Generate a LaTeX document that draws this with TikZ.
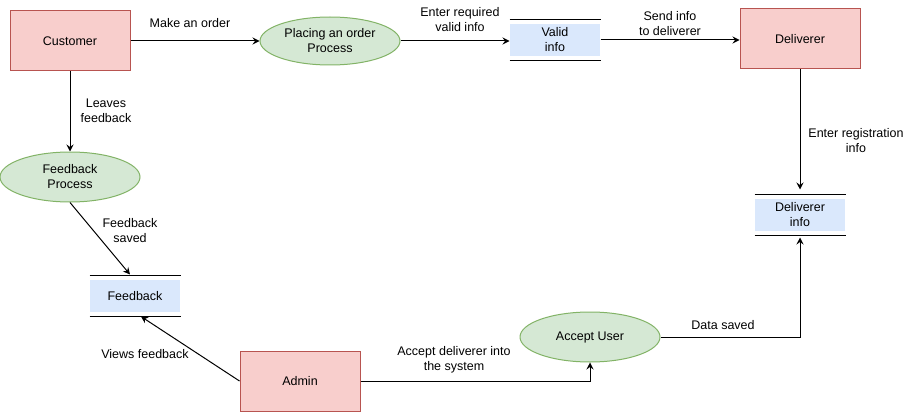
\documentclass[tikz,border=0pt]{standalone}
\usepackage{fontspec}
\setmainfont{Liberation Sans}
\usepackage{xcolor}
\usepackage{tikz}
\usetikzlibrary{arrows.meta,shapes.geometric}

\definecolor{entityfill}{HTML}{F8CECC}
\definecolor{entityline}{HTML}{B85450}
\definecolor{procfill}{HTML}{D5E8D4}
\definecolor{procline}{HTML}{82B366}
\definecolor{storefill}{HTML}{DAE8FC}

\begin{document}
\begin{tikzpicture}[x=1pt, y=-1pt, line width=1pt,
	every node/.style={font=\fontsize{12.5}{15}\selectfont, align=center},
	entity/.style={draw=entityline, fill=entityfill, minimum width=120pt, minimum height=60pt, inner sep=0pt},
	process/.style={ellipse, draw=procline, fill=procfill, minimum width=140pt, minimum height=50pt, inner sep=0pt},
	datastore/.style={fill=storefill, minimum width=90pt, minimum height=32pt, inner sep=0pt},
	flow/.style={-{Stealth[length=7pt,width=7pt,inset=2.5pt]}}]
	  \useasboundingbox (0,0) rectangle (916,412);
	  \node[entity] (cust) at (70,41) {Customer};
	  \node[entity] (deliv) at (800,39) {Deliverer};
	  \node[entity] (admin) at (300,381) {Admin};
	  \node[process, minimum height=48pt] (place) at (330,41) {Placing an order\\Process};
	  \node[process] (fbproc) at (70,177) {Feedback\\Process};
	  \node[process] (accept) at (590,337) {Accept User};
	  \node[datastore] (valid) at (555,40) {Valid\\info};
	  \node[datastore] (delinfo) at (800,215) {Deliverer\\info};
	  \node[datastore] (fbstore) at (135,296) {Feedback};
	  \foreach \s in {valid,delinfo,fbstore}
	    \draw ([yshift=4pt]\s.north west) -- ([yshift=4pt]\s.north east)
	          ([yshift=-4pt]\s.south west) -- ([yshift=-4pt]\s.south east);
	  \draw[flow] (cust.east) -- (cust.east -| place.west);
	  \draw[flow] (place.east) -- (place.east -| valid.west);
	  \draw[flow] (valid.east) -- (valid.east -| deliv.west);
	  \draw[flow] (deliv.south) -- ([yshift=9pt]delinfo.north);
	  \draw[flow] (cust.south) -- (fbproc.north);
	  \draw[flow] (fbproc.south) -- ([xshift=-5pt,yshift=5pt]fbstore.north);
	  \draw[flow] (admin.west) -- ([xshift=6pt,yshift=-4pt]fbstore.south);
	  \draw[flow] (admin.east) -| (accept.south);
	  \draw[flow] (accept.east) -| ([yshift=-6pt]delinfo.south);
	  \node (lorder) at (190,23) {Make an order};
	  \node (lvalid) at (460,20) {Enter required\\valid info};
	  \node (lsend) at (670,24) {Send info\\to deliverer};
	  \node (lreg) at (856,141) {Enter registration\\info};
	  \node (lleave) at (106,111) {Leaves\\feedback};
	  \node (lsaved) at (130,231) {Feedback\\saved};
	  \node (lviews) at (145,354) {Views feedback};
	  \node (laccept) at (454,360) {Accept deliverer into\\the system};
	  \node (ldata) at (723,325) {Data saved};
	\end{tikzpicture}
\end{document}
